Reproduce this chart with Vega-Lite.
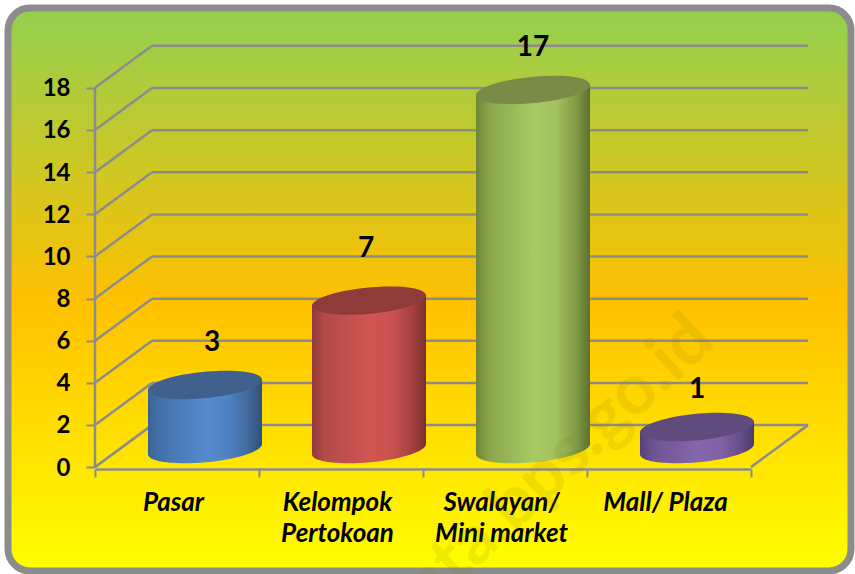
{
"$schema":"https://vega.github.io/schema/vega-lite/v6.json",
"width":843,"height":563,
"padding":{"left":8,"top":8,"right":4,"bottom":3},
"autosize":{"type":"none"},
"background":"#ffffff",
"view":{"fill":{"gradient":"linear","x1":0,"x2":0,"y1":0,"y2":1,"stops":[{"offset":0,"color":"#92d050"},{"offset":0.52,"color":"#ffc000"},{"offset":1,"color":"#ffff00"}]},"stroke":"#8c8c8c","strokeWidth":7,"cornerRadius":22},
"datasets":{
"bars":[{"category":"Pasar","value":3},{"category":"Kelompok Pertokoan","value":7},{"category":"Swalayan/ Mini market","value":17},{"category":"Mall/ Plaza","value":1}],
"ticks":[{"tick":0},{"tick":2},{"tick":4},{"tick":6},{"tick":8},{"tick":10},{"tick":12},{"tick":14},{"tick":16},{"tick":18}],
"wm":[{"label":"data.bps.go.id"}]
},
"encoding":{
"x":{"field":"category","type":"nominal","sort":null,"title":null,
"scale":{"type":"band","domain":["Pasar","Kelompok Pertokoan","Swalayan/ Mini market","Mall/ Plaza"],"range":[87,743],"paddingInner":0,"paddingOuter":0},
"axis":{"orient":"bottom","offset":-102,"tickBand":"extent","tickSize":8,"tickWidth":2,"tickColor":"#8c8c8c","domainColor":"#8c8c8c","domainWidth":2.5,"labelAngle":0,"labelPadding":12,"labelFont":"Lato","labelFontSize":26,"labelFontStyle":"italic","labelFontWeight":"bold","labelColor":"#000000","labelLineHeight":31,"labelLimit":300,"labelOverlap":false,"labelBaseline":"top","labelOffset":-4,
"labelExpr":"datum.label=='Kelompok Pertokoan'?['Kelompok','Pertokoan']:datum.label=='Swalayan/ Mini market'?['Swalayan/','Mini market']:datum.label"}},
"y":{"type":"quantitative","title":null,
"scale":{"domain":[-4.93,21.79],"nice":false,"zero":false},
"axis":{"orient":"left","offset":-87,"values":[0,2,4,6,8,10,12,14,16,18],"domain":false,"grid":false,"tickSize":9,"tickWidth":2,"tickColor":"#8c8c8c","labelPadding":16,"labelOffset":1,"labelFont":"Lato","labelFontSize":24,"labelFontWeight":"bold","labelColor":"#000000"}}
},
"layer":[
{"data":{"name":"ticks"},"mark":{"type":"rule","stroke":"#8c8c8c","strokeWidth":2.5,"xOffset":-25,"x2Offset":139,"yOffset":-42},
 "encoding":{"x":{"datum":"Pasar"},"x2":{"datum":"Mall/ Plaza"},"y":{"field":"tick","type":"quantitative"}}},
{"data":{"name":"ticks"},"mark":{"type":"rule","stroke":"#8c8c8c","strokeWidth":2.5,"xOffset":-82,"x2Offset":-25,"y2Offset":-42},
 "encoding":{"x":{"datum":"Pasar"},"x2":{"datum":"Pasar"},"y":{"field":"tick","type":"quantitative"},"y2":{"field":"tick"}}},
{"data":{"values":[{"tick":0}]},"mark":{"type":"rule","stroke":"#8c8c8c","strokeWidth":2.5,"xOffset":-82,"x2Offset":-82},
 "encoding":{"x":{"datum":"Pasar"},"x2":{"datum":"Pasar"},"y":{"datum":0,"type":"quantitative"},"y2":{"datum":18}}},
{"data":{"values":[{"tick":0}]},"mark":{"type":"rule","stroke":"#8c8c8c","strokeWidth":2.5,"xOffset":82,"x2Offset":139,"y2Offset":-42},
 "encoding":{"x":{"datum":"Mall/ Plaza"},"x2":{"datum":"Mall/ Plaza"},"y":{"datum":0,"type":"quantitative"},"y2":{"datum":0}}},

{"data":{"name":"bars"},"transform":[{"filter":"datum.category=='Pasar'"}],"layer":[
 {"mark":{"type":"bar","width":114,"xOffset":28,"yOffset":-13,"y2Offset":-24,"fill":{"gradient":"linear","x1":0,"x2":1,"y1":0,"y2":0,"stops":[{"offset":0,"color":"#3a6296"},{"offset":0.1,"color":"#4470a8"},{"offset":0.5,"color":"#558ace"},{"offset":0.7,"color":"#4f82c2"},{"offset":0.88,"color":"#426a9e"},{"offset":1,"color":"#2f4f78"}]}},
  "encoding":{"y":{"field":"value","type":"quantitative","stack":null},"y2":{"datum":0}}},
 {"mark":{"type":"point","filled":true,"opacity":1,"size":13133,"xOffset":28,"yOffset":-19,"shape":"M-0.9954,0.0958 L0.9954,-0.0958 L0.9954,0.13 L-0.9954,0.13 Z","fill":{"gradient":"linear","x1":0,"x2":1,"y1":0,"y2":0,"stops":[{"offset":0,"color":"#3a6296"},{"offset":0.1,"color":"#4470a8"},{"offset":0.5,"color":"#558ace"},{"offset":0.7,"color":"#4f82c2"},{"offset":0.88,"color":"#426a9e"},{"offset":1,"color":"#2f4f78"}]}},
  "encoding":{"y":{"field":"value","type":"quantitative"}}},
 {"mark":{"type":"point","filled":true,"opacity":1,"size":13133,"xOffset":28,"yOffset":-18,"shape":"M-0.9954,-0.13 L0.9954,-0.13 L0.9954,-0.0958 A1,0.23 -5.5 0 1 -0.9954,0.0958 Z","fill":{"gradient":"linear","x1":0,"x2":1,"y1":0,"y2":0,"stops":[{"offset":0,"color":"#3a6296"},{"offset":0.1,"color":"#4470a8"},{"offset":0.5,"color":"#558ace"},{"offset":0.7,"color":"#4f82c2"},{"offset":0.88,"color":"#426a9e"},{"offset":1,"color":"#2f4f78"}]}},
  "encoding":{"y":{"datum":0,"type":"quantitative"}}}
]},
{"data":{"name":"bars"},"transform":[{"filter":"datum.category=='Kelompok Pertokoan'"}],"layer":[
 {"mark":{"type":"bar","width":114,"xOffset":28,"yOffset":-13,"y2Offset":-24,"fill":{"gradient":"linear","x1":0,"x2":1,"y1":0,"y2":0,"stops":[{"offset":0,"color":"#93393a"},{"offset":0.1,"color":"#b14a47"},{"offset":0.5,"color":"#d05552"},{"offset":0.7,"color":"#c95250"},{"offset":0.88,"color":"#a5413f"},{"offset":1,"color":"#7a2f2e"}]}},
  "encoding":{"y":{"field":"value","type":"quantitative","stack":null},"y2":{"datum":0}}},
 {"mark":{"type":"point","filled":true,"opacity":1,"size":13133,"xOffset":28,"yOffset":-19,"shape":"M-0.9954,0.0958 L0.9954,-0.0958 L0.9954,0.13 L-0.9954,0.13 Z","fill":{"gradient":"linear","x1":0,"x2":1,"y1":0,"y2":0,"stops":[{"offset":0,"color":"#93393a"},{"offset":0.1,"color":"#b14a47"},{"offset":0.5,"color":"#d05552"},{"offset":0.7,"color":"#c95250"},{"offset":0.88,"color":"#a5413f"},{"offset":1,"color":"#7a2f2e"}]}},
  "encoding":{"y":{"field":"value","type":"quantitative"}}},
 {"mark":{"type":"point","filled":true,"opacity":1,"size":13133,"xOffset":28,"yOffset":-18,"shape":"M-0.9954,-0.13 L0.9954,-0.13 L0.9954,-0.0958 A1,0.23 -5.5 0 1 -0.9954,0.0958 Z","fill":{"gradient":"linear","x1":0,"x2":1,"y1":0,"y2":0,"stops":[{"offset":0,"color":"#93393a"},{"offset":0.1,"color":"#b14a47"},{"offset":0.5,"color":"#d05552"},{"offset":0.7,"color":"#c95250"},{"offset":0.88,"color":"#a5413f"},{"offset":1,"color":"#7a2f2e"}]}},
  "encoding":{"y":{"datum":0,"type":"quantitative"}}}
]},
{"data":{"name":"bars"},"transform":[{"filter":"datum.category=='Swalayan/ Mini market'"}],"layer":[
 {"mark":{"type":"bar","width":114,"xOffset":28,"yOffset":-13,"y2Offset":-24,"fill":{"gradient":"linear","x1":0,"x2":1,"y1":0,"y2":0,"stops":[{"offset":0,"color":"#6f8538"},{"offset":0.12,"color":"#8aa64c"},{"offset":0.5,"color":"#a9c963"},{"offset":0.7,"color":"#a3c25e"},{"offset":0.88,"color":"#809a45"},{"offset":1,"color":"#5c7030"}]}},
  "encoding":{"y":{"field":"value","type":"quantitative","stack":null},"y2":{"datum":0}}},
 {"mark":{"type":"point","filled":true,"opacity":1,"size":13133,"xOffset":28,"yOffset":-19,"shape":"M-0.9954,0.0958 L0.9954,-0.0958 L0.9954,0.13 L-0.9954,0.13 Z","fill":{"gradient":"linear","x1":0,"x2":1,"y1":0,"y2":0,"stops":[{"offset":0,"color":"#6f8538"},{"offset":0.12,"color":"#8aa64c"},{"offset":0.5,"color":"#a9c963"},{"offset":0.7,"color":"#a3c25e"},{"offset":0.88,"color":"#809a45"},{"offset":1,"color":"#5c7030"}]}},
  "encoding":{"y":{"field":"value","type":"quantitative"}}},
 {"mark":{"type":"point","filled":true,"opacity":1,"size":13133,"xOffset":28,"yOffset":-18,"shape":"M-0.9954,-0.13 L0.9954,-0.13 L0.9954,-0.0958 A1,0.23 -5.5 0 1 -0.9954,0.0958 Z","fill":{"gradient":"linear","x1":0,"x2":1,"y1":0,"y2":0,"stops":[{"offset":0,"color":"#6f8538"},{"offset":0.12,"color":"#8aa64c"},{"offset":0.5,"color":"#a9c963"},{"offset":0.7,"color":"#a3c25e"},{"offset":0.88,"color":"#809a45"},{"offset":1,"color":"#5c7030"}]}},
  "encoding":{"y":{"datum":0,"type":"quantitative"}}}
]},
{"data":{"name":"bars"},"transform":[{"filter":"datum.category=='Mall/ Plaza'"}],"layer":[
 {"mark":{"type":"bar","width":114,"xOffset":28,"yOffset":-13,"y2Offset":-24,"fill":{"gradient":"linear","x1":0,"x2":1,"y1":0,"y2":0,"stops":[{"offset":0,"color":"#56427a"},{"offset":0.12,"color":"#6e5495"},{"offset":0.5,"color":"#8566ab"},{"offset":0.7,"color":"#8063a5"},{"offset":0.88,"color":"#664f8a"},{"offset":1,"color":"#4a3a68"}]}},
  "encoding":{"y":{"field":"value","type":"quantitative","stack":null},"y2":{"datum":0}}},
 {"mark":{"type":"point","filled":true,"opacity":1,"size":13133,"xOffset":28,"yOffset":-19,"shape":"M-0.9954,0.0958 L0.9954,-0.0958 L0.9954,0.13 L-0.9954,0.13 Z","fill":{"gradient":"linear","x1":0,"x2":1,"y1":0,"y2":0,"stops":[{"offset":0,"color":"#56427a"},{"offset":0.12,"color":"#6e5495"},{"offset":0.5,"color":"#8566ab"},{"offset":0.7,"color":"#8063a5"},{"offset":0.88,"color":"#664f8a"},{"offset":1,"color":"#4a3a68"}]}},
  "encoding":{"y":{"field":"value","type":"quantitative"}}},
 {"mark":{"type":"point","filled":true,"opacity":1,"size":13133,"xOffset":28,"yOffset":-18,"shape":"M-0.9954,-0.13 L0.9954,-0.13 L0.9954,-0.0958 A1,0.23 -5.5 0 1 -0.9954,0.0958 Z","fill":{"gradient":"linear","x1":0,"x2":1,"y1":0,"y2":0,"stops":[{"offset":0,"color":"#56427a"},{"offset":0.12,"color":"#6e5495"},{"offset":0.5,"color":"#8566ab"},{"offset":0.7,"color":"#8063a5"},{"offset":0.88,"color":"#664f8a"},{"offset":1,"color":"#4a3a68"}]}},
  "encoding":{"y":{"datum":0,"type":"quantitative"}}}
]},
{"data":{"name":"bars"},"mark":{"type":"point","filled":true,"opacity":1,"size":13133,"xOffset":28,"yOffset":-19,"shape":"M-0.9954,0.0958 A1,0.23 -5.5 1 1 0.9954,-0.0958 A1,0.23 -5.5 1 1 -0.9954,0.0958 Z"},
 "encoding":{"y":{"field":"value","type":"quantitative"},
 "color":{"field":"category","type":"nominal","legend":null,"scale":{"domain":["Pasar","Kelompok Pertokoan","Swalayan/ Mini market","Mall/ Plaza"],"range":["#3f618c","#8f3b39","#788c48","#604c7c"]}}}},
{"data":{"name":"bars"},"mark":{"type":"text","font":"Lato","fontSize":28,"fontWeight":"bold","color":"#000000","baseline":"middle","align":"center",
 "xOffset":{"expr":"datum.value==3?35:datum.value==7?25:28"},"yOffset":{"expr":"datum.value==7?-71:datum.value==1?-56:-61"}},
 "encoding":{"y":{"field":"value","type":"quantitative"},"text":{"field":"value","type":"quantitative"}}},
{"data":{"name":"wm"},"mark":{"type":"text","font":"Lato","fontSize":70,"fontWeight":"bold","color":"#8a7a00","opacity":0.13,"angle":-43,"align":"center","baseline":"middle","xOffset":40},
 "encoding":{"x":{"datum":"Swalayan/ Mini market"},"y":{"datum":-0.4,"type":"quantitative"},"text":{"field":"label"}}}
]
}
